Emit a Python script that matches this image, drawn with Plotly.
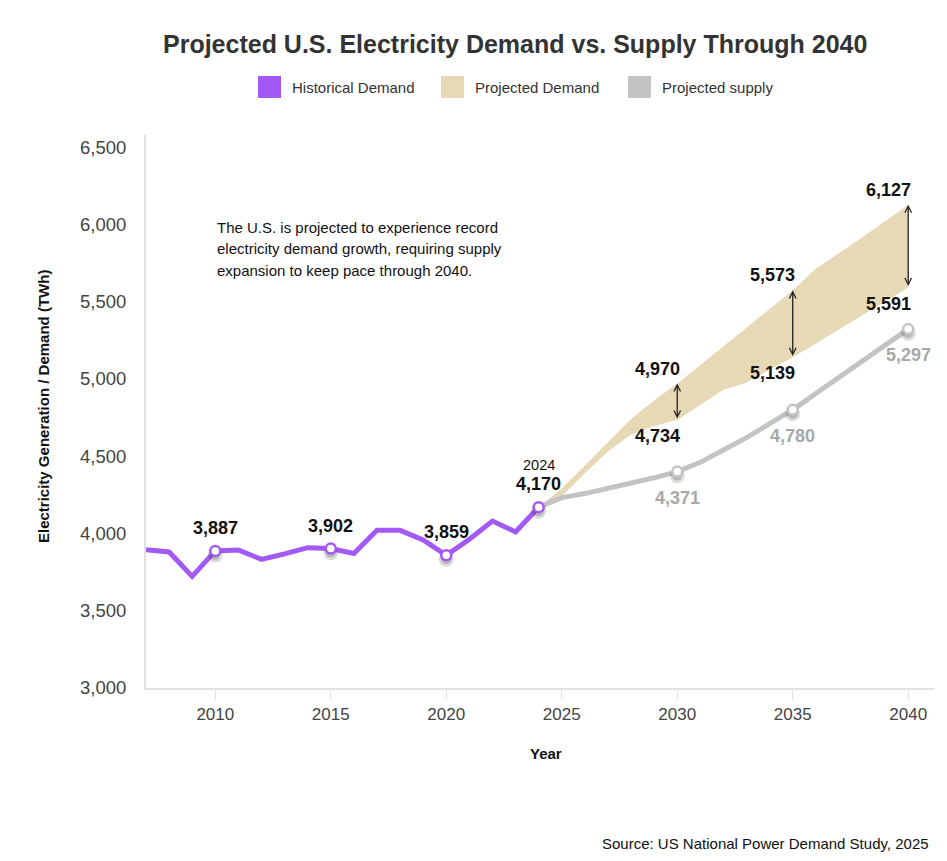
import plotly.graph_objects as go

# ---------------- data ----------------
hist_years = list(range(2007, 2025))
hist_demand = [3895, 3880, 3722, 3887, 3893, 3832, 3868, 3908, 3902, 3870,
               4020, 4020, 3958, 3859, 3962, 4080, 4010, 4170]

proj_years = list(range(2024, 2041))
proj_upper = [4170, 4290, 4440, 4590, 4740, 4860, 4970, 5090, 5210, 5330,
              5450, 5573, 5712, 5812, 5915, 6020, 6127]
proj_lower = [4170, 4240, 4390, 4530, 4640, 4695, 4734, 4830, 4930, 4975,
              5060, 5139, 5230, 5320, 5410, 5500, 5591]
proj_supply = [4170, 4232, 4258, 4290, 4325, 4360, 4400, 4460, 4540, 4620,
               4710, 4800, 4905, 5010, 5115, 5220, 5322]

hist_marker_years = [2010, 2015, 2020, 2024]
supply_marker_years = [2030, 2035, 2040]
supply_labels = ["4,371", "4,780", "5,297"]
gap_years = [2030, 2035, 2040]

x_ticks = [2010, 2015, 2020, 2025, 2030, 2035, 2040]
y_ticks = [3000, 3500, 4000, 4500, 5000, 5500, 6000, 6500]

PURPLE = "#a259f5"
BEIGE = "#e8d9b6"
GREY = "#c4c3c3"
FONT = "Arial, Liberation Sans, sans-serif"

# plot area in pixels (for paper-coordinate helpers)
L, R, T, B = 146, 935, 135, 688
W, H = 947, 861
Y_RANGE = [3000, 6578]
UNITS_PER_PX = (Y_RANGE[1] - Y_RANGE[0]) / (B - T)


def px(x):
    return (x - L) / (R - L)


def py(y):
    return (B - y) / (B - T)


fig = go.Figure()

# projected demand band
fig.add_trace(go.Scatter(x=proj_years, y=proj_lower, mode="lines",
                         line=dict(width=0, color=BEIGE), hoverinfo="skip"))
fig.add_trace(go.Scatter(x=proj_years, y=proj_upper, mode="lines",
                         line=dict(width=0, color=BEIGE), fill="tonexty",
                         fillcolor=BEIGE, hoverinfo="skip"))

# projected supply
fig.add_trace(go.Scatter(x=proj_years, y=proj_supply, mode="lines",
                         line=dict(width=5, color=GREY)))
sup_vals = [proj_supply[proj_years.index(y)] for y in supply_marker_years]

# historical demand
fig.add_trace(go.Scatter(x=hist_years, y=hist_demand, mode="lines",
                         line=dict(width=5, color=PURPLE)))
hist_vals = [hist_demand[hist_years.index(y)] for y in hist_marker_years]

# soft drop shadows under markers (offset a few pixels downward)
shadow_dy = 4 * UNITS_PER_PX
fig.add_trace(go.Scatter(x=supply_marker_years + hist_marker_years,
                         y=[v - shadow_dy for v in sup_vals + hist_vals],
                         mode="markers", hoverinfo="skip",
                         marker=dict(size=15, color="rgba(60,60,60,0.18)", line=dict(width=0))))
fig.add_trace(go.Scatter(x=supply_marker_years + hist_marker_years,
                         y=[v - shadow_dy for v in sup_vals + hist_vals],
                         mode="markers", hoverinfo="skip",
                         marker=dict(size=10, color="rgba(60,60,60,0.22)", line=dict(width=0))))

fig.add_trace(go.Scatter(x=supply_marker_years, y=sup_vals, mode="markers",
                         marker=dict(size=10, color="white",
                                     line=dict(width=2.5, color=GREY))))
fig.add_trace(go.Scatter(x=hist_marker_years, y=hist_vals, mode="markers",
                         marker=dict(size=10, color="white",
                                     line=dict(width=2.5, color=PURPLE))))

annotations = []

# historical labels
for yr, v in zip(hist_marker_years, hist_vals):
    annotations.append(dict(x=yr, y=v, xref="x", yref="y", text=f"<b>{v:,}</b>",
                            showarrow=False, yshift=23,
                            font=dict(family=FONT, size=18, color="#111"),
                            xanchor="center", yanchor="middle"))
annotations.append(dict(x=hist_marker_years[-1], y=hist_vals[-1], xref="x", yref="y",
                        text=str(hist_marker_years[-1]), showarrow=False, yshift=42,
                        font=dict(family=FONT, size=14.5, color="#111"),
                        xanchor="center", yanchor="middle"))

# supply labels
for yr, v, t in zip(supply_marker_years, sup_vals, supply_labels):
    annotations.append(dict(x=yr, y=v, xref="x", yref="y", text=f"<b>{t}</b>",
                            showarrow=False, yshift=-26,
                            font=dict(family=FONT, size=18, color="#a8a8a8"),
                            xanchor="center", yanchor="middle"))

# gap labels and double arrows
for yr in gap_years:
    up = proj_upper[proj_years.index(yr)]
    lo = proj_lower[proj_years.index(yr)]
    annotations.append(dict(x=yr, y=up, xref="x", yref="y", text=f"<b>{up:,}</b>",
                            showarrow=False, xshift=-20, yshift=15,
                            font=dict(family=FONT, size=18, color="#111"),
                            xanchor="center", yanchor="middle"))
    annotations.append(dict(x=yr, y=lo, xref="x", yref="y", text=f"<b>{lo:,}</b>",
                            showarrow=False, xshift=-20, yshift=-16,
                            font=dict(family=FONT, size=18, color="#111"),
                            xanchor="center", yanchor="middle"))
    annotations.append(dict(x=yr, y=up, ax=yr, ay=lo, xref="x", yref="y",
                            axref="x", ayref="y", text="", showarrow=True,
                            arrowhead=5, startarrowhead=5, arrowside="end+start",
                            arrowsize=1.0, startarrowsize=1.0, arrowwidth=1.3,
                            arrowcolor="#222", standoff=0, startstandoff=0))

# explanatory text
note_lines = ["The U.S. is projected to experience record",
              "electricity demand growth, requiring supply",
              "expansion to keep pace through 2040."]
for i, line in enumerate(note_lines):
    annotations.append(dict(x=px(215), y=py(227 + i * 21.5), xref="paper", yref="paper",
                            text=line, showarrow=False, xanchor="left", yanchor="middle",
                            font=dict(family=FONT, size=15, color="#111")))

# title
annotations.append(dict(x=px(515), y=py(44), xref="paper", yref="paper",
                        text="<b>Projected U.S. Electricity Demand vs. Supply Through 2040</b>",
                        showarrow=False, xanchor="center", yanchor="middle",
                        font=dict(family=FONT, size=25, color="#333")))

# axis titles
annotations.append(dict(x=px(546), y=py(753), xref="paper", yref="paper",
                        text="<b>Year</b>", showarrow=False, xanchor="center", yanchor="middle",
                        font=dict(family=FONT, size=15, color="#111")))
annotations.append(dict(x=px(43), y=py(407), xref="paper", yref="paper",
                        text="<b>Electricity Generation / Demand (TWh)</b>", showarrow=False,
                        textangle=-90, xanchor="center", yanchor="middle",
                        font=dict(family=FONT, size=15, color="#111")))

# source
annotations.append(dict(x=px(931), y=py(843), xref="paper", yref="paper",
                        text="Source: US National Power Demand Study, 2025", showarrow=False,
                        xanchor="right", yanchor="middle",
                        font=dict(family=FONT, size=15, color="#111")))

# manual legend
legend_items = [("Historical Demand", PURPLE, 258),
                ("Projected Demand", BEIGE, 441),
                ("Projected supply", GREY, 628)]
shapes = []
for name, col, x0 in legend_items:
    shapes.append(dict(type="rect", xref="paper", yref="paper",
                       x0=px(x0), x1=px(x0 + 23), y0=py(98), y1=py(76),
                       fillcolor=col, line=dict(width=0)))
    annotations.append(dict(x=px(x0 + 32), y=py(87), xref="paper", yref="paper",
                            text=name, showarrow=False, xanchor="left", yanchor="middle",
                            font=dict(family=FONT, size=15, color="#333")))

fig.update_layout(
    width=W, height=H,
    margin=dict(l=L, r=W - R, t=T, b=H - B),
    plot_bgcolor="white", paper_bgcolor="white",
    showlegend=False,
    annotations=annotations,
    shapes=shapes,
    xaxis=dict(range=[2007, 2041.16], tickvals=x_ticks, showgrid=False, zeroline=False,
               showline=True, linecolor="#e2e2e2", linewidth=2,
               ticks="outside", ticklen=10, tickcolor="#e2e2e2", tickwidth=1,
               tickfont=dict(family=FONT, size=17, color="#444")),
    yaxis=dict(range=Y_RANGE, tickvals=y_ticks, tickformat=",", showgrid=False,
               zeroline=False, showline=True, linecolor="#e2e2e2", linewidth=2,
               ticks="outside", ticklen=14, tickcolor="rgba(0,0,0,0)",
               tickfont=dict(family=FONT, size=18.5, color="#444")),
)

fig.write_html("out.html")
